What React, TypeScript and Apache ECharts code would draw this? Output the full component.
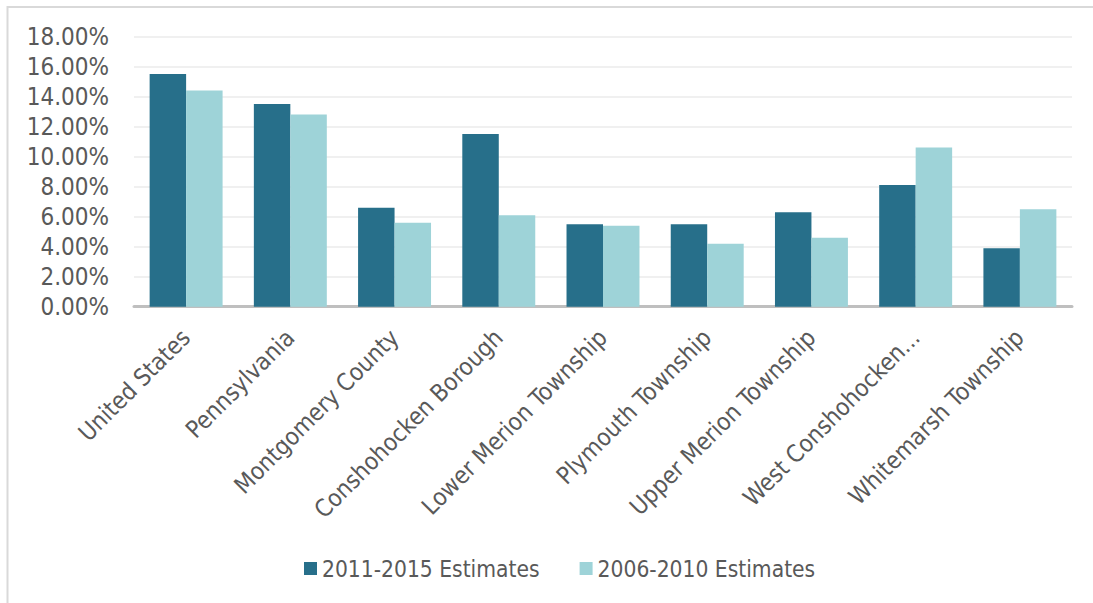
import React, { useEffect, useRef } from "react";
import * as echarts from "echarts";

// Places compared
const categories = [
  "United States",
  "Pennsylvania",
  "Montgomery County",
  "Conshohocken Borough",
  "Lower Merion Township",
  "Plymouth Township",
  "Upper Merion Township",
  "West Conshohocken...",
  "Whitemarsh Township",
];

// Percent values per estimate period
const estimates2011to2015 = [15.5, 13.5, 6.6, 11.5, 5.5, 5.5, 6.3, 8.1, 3.9];
const estimates2006to2010 = [14.4, 12.8, 5.6, 6.1, 5.4, 4.2, 4.6, 10.6, 6.5];

const seriesNames = ["2011-2015 Estimates", "2006-2010 Estimates"];

// Value axis range (percent)
const yMin = 0;
const yMax = 18;
const yStep = 2;

const FONT = "'DejaVu Sans Condensed', 'DejaVu Sans', sans-serif";
const TEXT = "#595959";
const DARK = "#276f8a";
const LIGHT = "#9ed3d8";

export default function App() {
  const ref = useRef<HTMLDivElement>(null);

  useEffect(() => {
    if (!ref.current) return;
    const chart = echarts.init(ref.current, undefined, { renderer: "svg" });
    chart.setOption({
      animation: false,
      backgroundColor: "#ffffff",
      graphic: [
        {
          type: "rect",
          silent: true,
          shape: { x: 7.5, y: 7, width: 1200, height: 700 },
          style: { fill: "none", stroke: "#d9d9d9", lineWidth: 2 },
        },
      ],
      grid: { left: 134, right: 21, top: 36.5, height: 270.2, containLabel: false },
      legend: {
        left: 299,
        top: 552,
        itemWidth: 13,
        itemHeight: 13,
        itemGap: 40,
        icon: "rect",
        textStyle: { fontSize: 22.6, color: TEXT, fontFamily: FONT },
        data: seriesNames,
      },
      xAxis: {
        type: "category",
        data: categories,
        axisLine: { lineStyle: { color: "#bfbfbf", width: 3 } },
        axisTick: { show: false },
        axisLabel: {
          interval: 0,
          rotate: 45,
          margin: 27,
          fontSize: 24,
          color: TEXT,
          fontFamily: FONT,
        },
      },
      yAxis: {
        type: "value",
        min: yMin,
        max: yMax,
        interval: yStep,
        axisLine: { show: false },
        axisTick: { show: false },
        splitLine: { lineStyle: { color: "#f0f0f0", width: 2 } },
        axisLabel: {
          margin: 25,
          fontSize: 24,
          color: TEXT,
          fontFamily: FONT,
          formatter: (v: number) => v.toFixed(2) + "%",
        },
      },
      series: [
        {
          name: seriesNames[0],
          type: "bar",
          data: estimates2011to2015,
          barGap: "0%",
          barCategoryGap: "30%",
          itemStyle: { color: DARK },
        },
        {
          name: seriesNames[1],
          type: "bar",
          data: estimates2006to2010,
          barGap: "0%",
          barCategoryGap: "30%",
          itemStyle: { color: LIGHT },
        },
      ],
    });
    return () => chart.dispose();
  }, []);

  return (
    <div
      ref={ref}
      style={{ position: "absolute", left: 0, top: 0, width: 1093, height: 603 }}
    />
  );
}
